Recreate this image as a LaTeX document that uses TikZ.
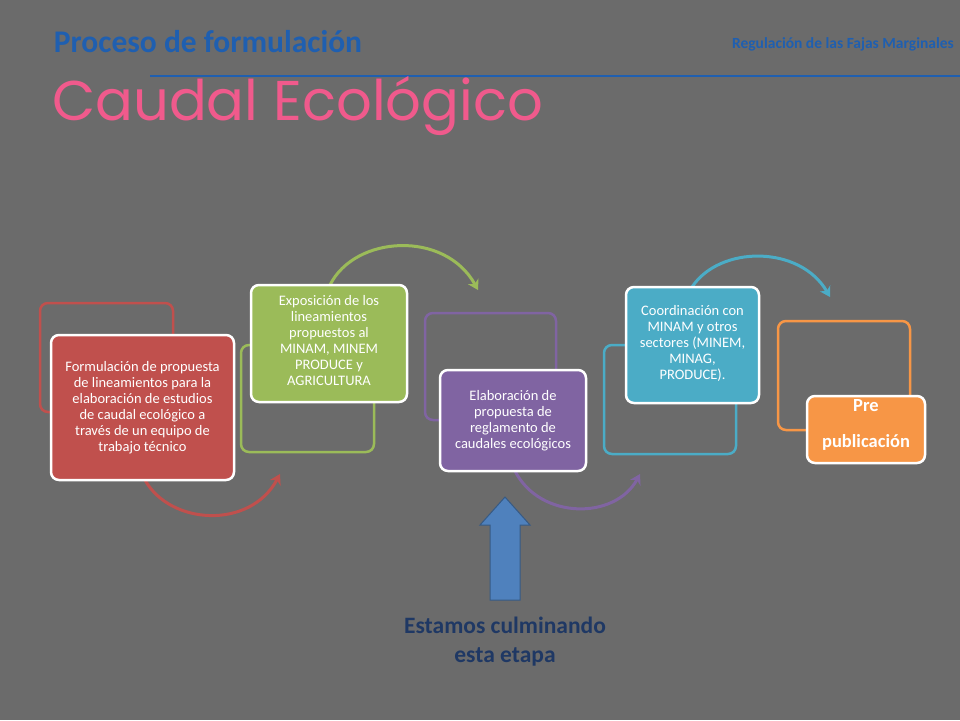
\documentclass[tikz,border=0pt]{standalone}
\usepackage{fontspec}
\setmainfont{Carlito}
\newfontfamily\gothic{Poppins}
\usetikzlibrary{arrows.meta}
\definecolor{bg}{RGB}{107,107,107}
\definecolor{ttl}{RGB}{31,95,176}
\definecolor{cred}{RGB}{192,80,77}
\definecolor{cgreen}{RGB}{155,187,89}
\definecolor{cpurple}{RGB}{128,100,162}
\definecolor{cblue}{RGB}{75,172,198}
\definecolor{corange}{RGB}{247,150,70}
\definecolor{pinkt}{RGB}{240,90,140}
\definecolor{arrowb}{RGB}{79,129,189}
\definecolor{navy}{RGB}{31,56,100}
\tikzset{
 x=1pt,y=-1pt,
 outl/.style={draw=#1,line width=2.5pt,rounded corners=8pt},
 filled/.style={fill=#1,draw=white,line width=2.5pt,rounded corners=8pt},
 btxt/.style={text=white,align=center,inner sep=0pt,font=\fontsize{14.5}{16}\selectfont},
 arc/.style={draw=#1,line width=3pt,-{Stealth[length=10pt,width=12pt]}}
}
\begin{document}
\begin{tikzpicture}
\useasboundingbox (0,0) rectangle (960,720);
\fill[bg] (0,0) rectangle (960,720);
\node[text=ttl,font=\bfseries\fontsize{31.5}{36}\selectfont] (t1) at (208,42) {Proceso de formulación};
\node[text=ttl,font=\bfseries\fontsize{15.5}{17}\selectfont,anchor=east,inner sep=0pt] (t2) at (954,44) {Regulación de las Fajas Marginales};
\draw[ttl,line width=2.5pt] (150,76) -- (960,76);
\node[anchor=west,text=pinkt,font=\gothic\fontsize{56}{62}\selectfont,inner sep=0pt] (t3) at (52,106) {Caudal Ecológico};
% arcs
\draw[arc=cred] (145,480) .. controls (170,525) and (250,530) .. (280,474);
\draw[arc=cgreen] (330,285) .. controls (355,235) and (445,230) .. (478,290);
\draw[arc=cpurple] (515,471) .. controls (540,520) and (615,520) .. (640,474);
\draw[arc=cblue] (692,287) .. controls (720,245) and (800,245) .. (830,297);
% outline boxes
\draw[outl=cred] (40,303) rectangle (173,412);
\draw[outl=cgreen] (241,345) rectangle (374,452);
\draw[outl=cpurple] (425,313) rectangle (556,420);
\draw[outl=cblue] (604,345) rectangle (736,454);
\draw[outl=corange] (778,321) rectangle (910,430);
% filled boxes
\draw[filled=cred] (51,335) rectangle (234,480);
\node[btxt] (b1) at (142.5,407.5) {Formulación de propuesta\\de lineamientos para la\\elaboración de estudios\\de caudal ecológico a\\través de un equipo de\\trabajo técnico};
\draw[filled=cgreen] (251,285) rectangle (407,402);
\node[btxt] (b2) at (329,341) {Exposición de los\\lineamientos\\propuestos al\\MINAM, MINEM\\PRODUCE y\\AGRICULTURA};
\draw[filled=cpurple] (440,370) rectangle (586,471);
\node[btxt] (b3) at (513,420.5) {Elaboración de\\propuesta de\\reglamento de\\caudales ecológicos};
\draw[filled=cblue] (626,287) rectangle (759,403);
\node[btxt] (b4) at (692.5,343) {Coordinación con\\MINAM y otros\\sectores (MINEM,\\MINAG,\\PRODUCE).};
\draw[filled=corange] (807,396) rectangle (925,463);
\node[text=white,align=center,inner sep=0pt,font=\bfseries\fontsize{18.5}{36}\selectfont] (b5) at (866,425) {Pre\\publicación};
% up arrow
\draw[fill=arrowb,draw=arrowb!70!black,line width=1pt] (490,600) -- (490,525) -- (480,525) -- (505,497) -- (530,525) -- (520,525) -- (520,600) -- cycle;
\node[text=navy,align=center,font=\bfseries\fontsize{23.5}{29}\selectfont] (e) at (505,642) {Estamos culminando\\esta etapa};
\end{tikzpicture}
\end{document}
